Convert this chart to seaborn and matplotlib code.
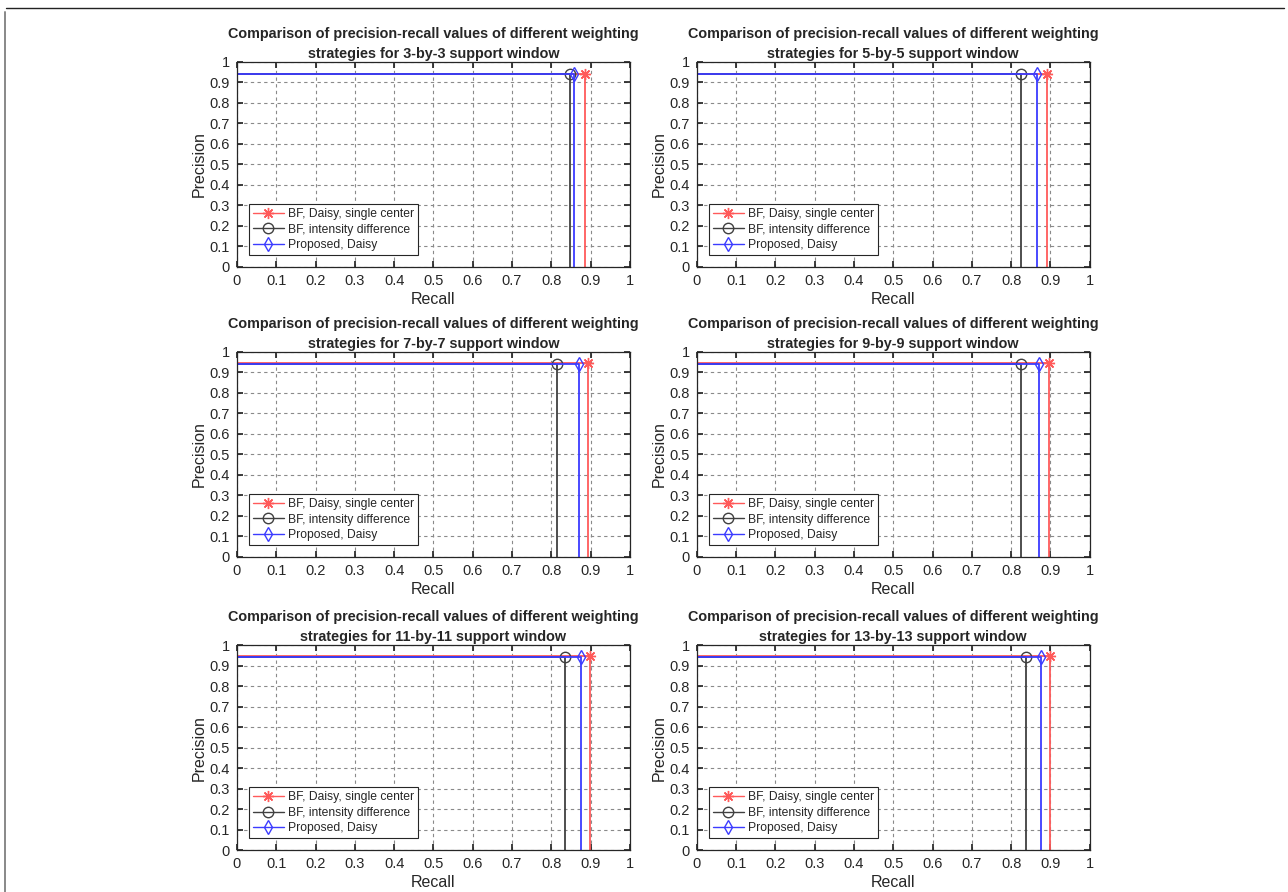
# Precision-recall comparison of weighting strategies, one panel per support window
import matplotlib
matplotlib.use('Agg')
import matplotlib.pyplot as plt
from matplotlib.lines import Line2D
import seaborn as sns
import pandas as pd

# -------------------------------
# DATA
# -------------------------------
windows = ["3-by-3", "5-by-5", "7-by-7", "9-by-9", "11-by-11", "13-by-13"]
series_names = ["BF, Daisy, single center", "BF, intensity difference", "Proposed, Daisy"]

recall_bf_daisy     = [0.886, 0.892, 0.894, 0.896, 0.898, 0.900]
recall_bf_intensity = [0.847, 0.824, 0.815, 0.824, 0.835, 0.839]
recall_proposed     = [0.857, 0.866, 0.871, 0.872, 0.875, 0.875]

precision_bf_daisy     = [0.942, 0.942, 0.946, 0.946, 0.946, 0.946]
precision_bf_intensity = [0.941, 0.941, 0.941, 0.941, 0.941, 0.941]
precision_proposed     = [0.941, 0.941, 0.940, 0.940, 0.940, 0.940]

x_ticks = [0, 0.1, 0.2, 0.3, 0.4, 0.5, 0.6, 0.7, 0.8, 0.9, 1]
y_ticks = [0, 0.1, 0.2, 0.3, 0.4, 0.5, 0.6, 0.7, 0.8, 0.9, 1]

COLORS  = ["#ff5a5a", "#404040", "#3c3cff"]
MARKERS = [(8, 2, 0), "o", "d"]   # asterisk, circle, diamond
MSIZE   = [8, 7.5, 7]

sns.set_theme(style="ticks")
plt.rcParams['font.family'] = ['Liberation Sans', 'DejaVu Sans']

fig = plt.figure(figsize=(12.88, 8.92), dpi=100)

# panel positions in figure fractions
lefts   = [0.184, 0.541]
bottoms = [0.7007, 0.3756, 0.047]
width, height = 0.305, 0.2298


def panel_frame(i):
    rows = []
    recs = [recall_bf_daisy[i], recall_bf_intensity[i], recall_proposed[i]]
    precs = [precision_bf_daisy[i], precision_bf_intensity[i], precision_proposed[i]]
    for name, r, p in zip(series_names, recs, precs):
        # stair path: along precision level, then straight down at recall
        rows.append({"series": name, "recall": 0.0, "precision": p})
        rows.append({"series": name, "recall": r, "precision": p})
        rows.append({"series": name, "recall": r, "precision": 0.0})
    return pd.DataFrame(rows)


for i, win in enumerate(windows):
    row, col = divmod(i, 2)
    ax = fig.add_axes([lefts[col], bottoms[row], width, height])
    df = panel_frame(i)

    for k, name in enumerate(series_names):
        sub = df[df["series"] == name]
        sns.lineplot(data=sub, x="recall", y="precision", sort=False,
                     estimator=None, errorbar=None, ax=ax,
                     color=COLORS[k], linewidth=1.3, marker=MARKERS[k],
                     markersize=MSIZE[k], markerfacecolor="none",
                     markeredgecolor=COLORS[k], markeredgewidth=1.0,
                     markevery=[1])

    ax.set_xlim(0, 1)
    ax.set_ylim(0, 1)
    ax.set_xticks(x_ticks)
    ax.set_yticks(y_ticks)
    ax.set_xticklabels([f"{t:g}" for t in x_ticks])
    ax.set_yticklabels([f"{t:g}" for t in y_ticks])
    ax.tick_params(direction="in", length=4, labelsize=10.5, colors="#262626",
                   top=True, right=True, pad=5)
    ax.grid(True, linestyle=(0, (3, 3)), color="#8a8a8a", linewidth=0.8)
    for s in ax.spines.values():
        s.set_color("#262626")
        s.set_linewidth(0.9)
    ax.set_xlabel("Recall", fontsize=11.5, labelpad=3)
    ax.set_ylabel("Precision", fontsize=11.5, labelpad=2)
    ax.set_title("Comparison of precision-recall values of different weighting\n"
                 f"strategies for {win} support window",
                 fontsize=10.4, fontweight="bold", pad=3, linespacing=1.5)

    handles = [Line2D([0], [0], color=COLORS[k], linewidth=1.0, marker=MARKERS[k],
                      markersize=MSIZE[k], markerfacecolor="none",
                      markeredgecolor=COLORS[k])
               for k in range(3)]
    leg = ax.legend(handles, series_names, loc="lower left", fontsize=8.7,
                    frameon=True, fancybox=False, framealpha=1,
                    edgecolor="#262626", borderaxespad=1.0, handlelength=2.6,
                    labelspacing=0.3, borderpad=0.3, handletextpad=0.35)
    leg.get_frame().set_linewidth(0.8)

# page border seen in the reference (top and left only)
fig.add_artist(Line2D([0.005, 0.997], [1 - 8 / 892, 1 - 8 / 892],
                      transform=fig.transFigure, color="#222222", linewidth=1.0))
fig.add_artist(Line2D([0.0035, 0.0035], [0.0, 1 - 12 / 892],
                      transform=fig.transFigure, color="#888888", linewidth=1.4))

fig.savefig("out.png", dpi=100)
plt.close(fig)
